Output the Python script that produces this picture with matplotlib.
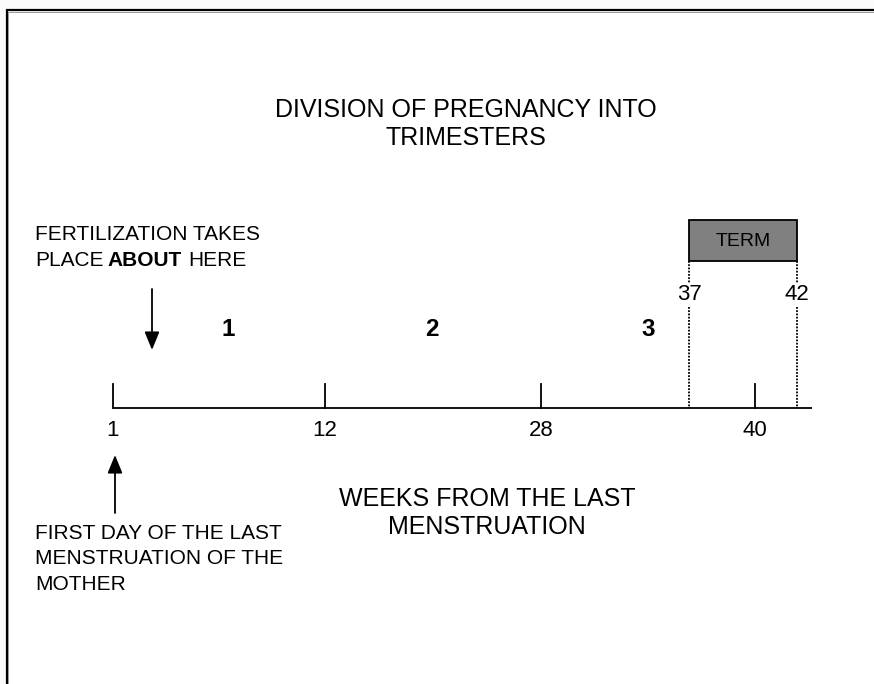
import matplotlib.pyplot as plt
from matplotlib.patches import Rectangle

plt.rcParams['font.family'] = ['Liberation Sans', 'DejaVu Sans']

# ======= diagram content =======
week_labels = ["1", "12", "28", "40"]
term_weeks = ["37", "42"]
trimesters = ["1", "2", "3"]
title_text = "DIVISION OF PREGNANCY INTO\nTRIMESTERS"
axis_text = "WEEKS FROM THE LAST\nMENSTRUATION"
lmp_text = "FIRST DAY OF THE LAST\nMENSTRUATION OF THE\nMOTHER"

# layout (pixel coords of the 874x684 canvas)
tick_x = [113, 325, 541, 755]
term_x = [689, 797]
tri_x = [228, 432, 648]
axis_y = 408

fig = plt.figure(figsize=(8.74, 6.84), dpi=100)
fig.patch.set_facecolor("#fafafa")
ax = fig.add_axes([0, 0, 1, 1])
ax.set_xlim(0, 874)
ax.set_ylim(684, 0)
ax.axis("off")

# page with border (top + left only)
ax.add_patch(Rectangle((7, 10), 880, 700, facecolor="white", edgecolor="none"))
ax.plot([6, 874], [10, 10], color="black", lw=1.6, solid_capstyle="butt")
ax.plot([6.5, 6.5], [9, 684], color="black", lw=1.6, solid_capstyle="butt")
ax.plot([8, 874], [11.6, 11.6], color="#999999", lw=0.7)
ax.plot([8.1, 8.1], [11.6, 684], color="#999999", lw=0.7)

# title
ax.text(466, 124, title_text, ha="center", va="center", fontsize=18,
        linespacing=1.25)

# axis line and ticks
ax.plot([tick_x[0], 812], [axis_y, axis_y], color="black", lw=1.3,
        solid_capstyle="butt")
for x, lab in zip(tick_x, week_labels):
    ax.plot([x, x], [384, axis_y], color="black", lw=1.3)
    ax.text(x, 431, lab, ha="center", va="center", fontsize=16)

# trimester numbers
for x, lab in zip(tri_x, trimesters):
    ax.text(x, 330, lab, ha="center", va="center", fontsize=17.5,
            fontweight="bold")

# term box
ax.add_patch(Rectangle((term_x[0], 220), term_x[1] - term_x[0], 41,
                       facecolor="#808080", edgecolor="black", lw=1.3))
ax.text((term_x[0] + term_x[1]) / 2, 241, "TERM", ha="center", va="center",
        fontsize=14)
for x, lab in zip(term_x, term_weeks):
    ax.plot([x, x], [261, 283], color="black", lw=1.3, ls=(0, (1, 0.8)))
    ax.plot([x, x], [307, axis_y], color="black", lw=1.3, ls=(0, (1, 0.8)))
    ax.text(x, 295, lab, ha="center", va="center", fontsize=16)

# fertilization note and arrow
ax.text(35, 235, "FERTILIZATION TAKES", ha="left", va="center", fontsize=15)
ax.text(35, 260, "PLACE", ha="left", va="center", fontsize=15)
ax.text(107, 260, "ABOUT", ha="left", va="center", fontsize=15,
        fontweight="bold")
ax.text(188, 260, "HERE", ha="left", va="center", fontsize=15)
ax.annotate("", xy=(152, 350), xytext=(152, 289),
            arrowprops=dict(arrowstyle="-|>,head_length=1.1,head_width=0.45",
                            color="black", lw=1.3, shrinkA=0, shrinkB=0))

# first day of last menstruation note and arrow
ax.annotate("", xy=(115, 455), xytext=(115, 513),
            arrowprops=dict(arrowstyle="-|>,head_length=1.1,head_width=0.45",
                            color="black", lw=1.3, shrinkA=0, shrinkB=0))
ax.text(35, 559, lmp_text, ha="left", va="center", fontsize=15,
        linespacing=1.45)

# axis caption
ax.text(487, 513, axis_text, ha="center", va="center", fontsize=18,
        linespacing=1.2)

plt.savefig("out.png", dpi=100, facecolor=fig.get_facecolor())
